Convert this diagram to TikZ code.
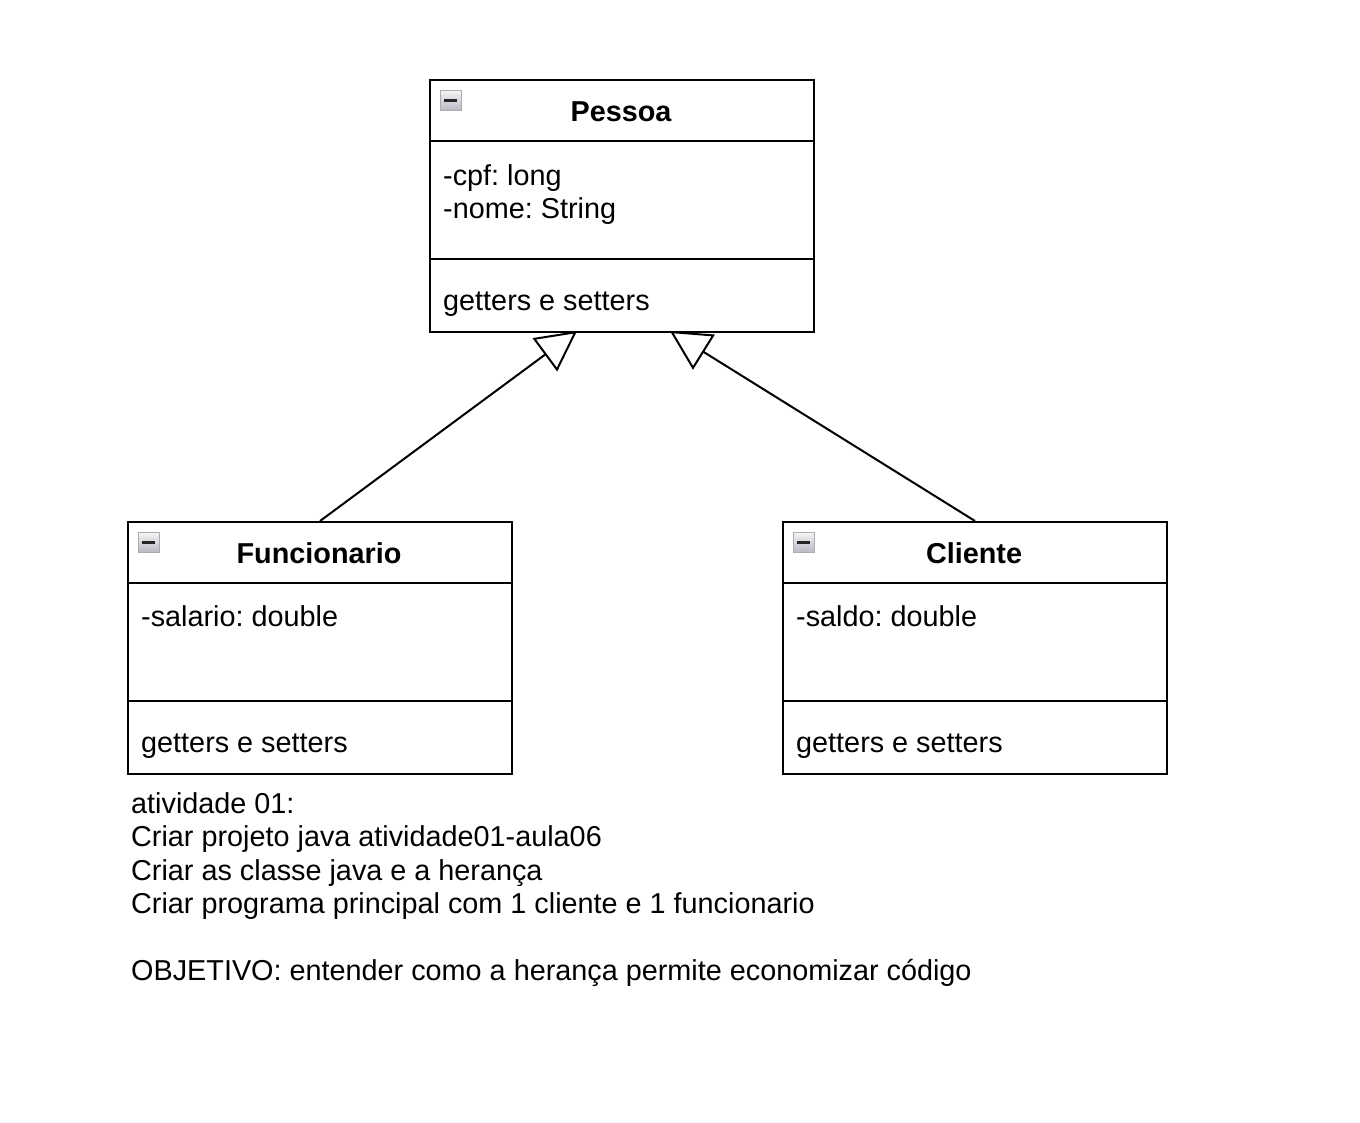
\documentclass[tikz,border=0pt]{standalone}
\usepackage{fontspec}
\setmainfont{Liberation Sans}
\usetikzlibrary{arrows.meta}
\frenchspacing
\begin{document}
\begin{tikzpicture}[x=1pt,y=-1pt,
  classbox/.style={draw, rectangle, minimum width=384pt, minimum height=252pt, anchor=north west, inner sep=0pt, line width=2pt},
  txt/.style={anchor=base west, inner sep=0pt, font=\fontsize{28.8}{33.6}\selectfont},
  ttl/.style={anchor=base, inner sep=0pt, font=\fontsize{28.8}{33.6}\selectfont\bfseries},
  divider/.style={line width=2pt},
  icon/.style={draw=gray!65, line width=0.8pt, top color=gray!8, bottom color=blue!10!gray!50, minimum width=21pt, minimum height=20pt, inner sep=0pt, anchor=north west,
    path picture={\draw[line width=2.2pt, black!85] ([xshift=4pt]path picture bounding box.west) -- ([xshift=-4pt]path picture bounding box.east);}},
  gen/.style={-{Triangle[open,length=40pt,width=41pt]}, line width=2pt}]
\useasboundingbox (0,0) rectangle (1360,1122);

% Pessoa
\node[classbox] (pessoa) at (429,79) {};
\draw[divider] ([yshift=-62pt]pessoa.north west) -- ([yshift=-62pt]pessoa.north east);
\draw[divider] ([yshift=-180pt]pessoa.north west) -- ([yshift=-180pt]pessoa.north east);
\node[icon] (pessoaicon) at (440,90) {};
\node[ttl] (pessoatitle) at (621,121.5) {Pessoa};
\node[txt] (pessoaa1) at (443,185) {-cpf: long};
\node[txt] (pessoaa2) at (443,218.5) {-nome: String};
\node[txt] (pessoam) at (443,310.5) {getters e setters};

% Funcionario
\node[classbox] (func) at (127,521) {};
\draw[divider] ([yshift=-62pt]func.north west) -- ([yshift=-62pt]func.north east);
\draw[divider] ([yshift=-180pt]func.north west) -- ([yshift=-180pt]func.north east);
\node[icon] (funcicon) at (138,532) {};
\node[ttl] (functitle) at (319,563.5) {Funcionario};
\node[txt] (funca1) at (141,626.5) {-salario: double};
\node[txt] (funcm) at (141,752.5) {getters e setters};

% Cliente
\node[classbox] (cli) at (782,521) {};
\draw[divider] ([yshift=-62pt]cli.north west) -- ([yshift=-62pt]cli.north east);
\draw[divider] ([yshift=-180pt]cli.north west) -- ([yshift=-180pt]cli.north east);
\node[icon] (cliicon) at (793,532) {};
\node[ttl] (clititle) at (974,563.5) {Cliente};
\node[txt] (clia1) at (796,626.5) {-saldo: double};
\node[txt] (clim) at (796,752.5) {getters e setters};

% generalizations
\coordinate (tipL) at (577,331);
\coordinate (tipR) at (670,331);
\draw[gen] (func.north) -- (tipL);
\draw[gen] (cli.north) -- (tipR);

% notes
\node[txt] (n1) at (131,813) {atividade 01:};
\node[txt] (n2) at (131,846.5) {Criar projeto java atividade01-aula06};
\node[txt] (n3) at (131,880) {Criar as classe java e a herança};
\node[txt] (n4) at (131,913.5) {Criar programa principal com 1 cliente e 1 funcionario};
\node[txt] (n5) at (131,980.5) {OBJETIVO: entender como a herança permite economizar código};
\end{tikzpicture}
\end{document}
